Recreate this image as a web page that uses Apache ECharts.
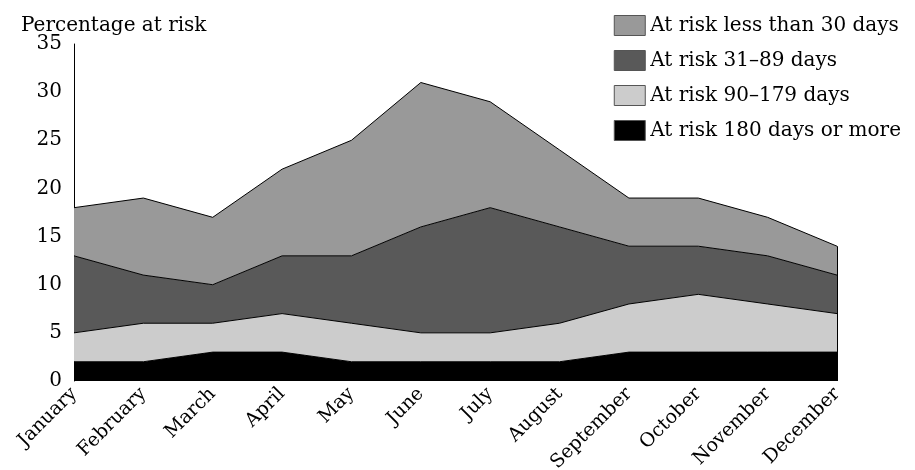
<!DOCTYPE html>
<html><head><meta charset="utf-8">
<script src="https://cdn.jsdelivr.net/npm/echarts@6/dist/echarts.min.js"></script>
<style>html,body{margin:0;padding:0;background:#fff}#c{width:915px;height:470px}</style>
</head><body><div id="c"></div>
<script>
var months = ["January","February","March","April","May","June","July","August","September","October","November","December"];
var risk180plus = [2,2,3,3,2,2,2,2,3,3,3,3];
var risk90to179 = [3,4,3,4,4,3,3,4,5,6,5,4];
var risk31to89 = [8,5,4,6,7,11,13,10,6,5,5,4];
var riskUnder30 = [5,8,7,9,12,15,11,8,5,5,4,3];
var names = ["At risk less than 30 days","At risk 31\u201389 days","At risk 90\u2013179 days","At risk 180 days or more"];
var yTicks = [0,5,10,15,20,25,30,35];

var FONT = "DejaVu Serif";
var chart = echarts.init(document.getElementById('c'));
function mk(name, data, color){
  return {name:name, type:'line', stack:'all', data:data, symbol:'none',
    lineStyle:{color:'#000', width:1}, areaStyle:{color:color, opacity:1},
    itemStyle:{color:color}};
}
var last = months.length-1;
var total = risk180plus[last]+risk90to179[last]+risk31to89[last]+riskUnder30[last];
var s = [
  mk(names[3], risk180plus, '#000000'),
  mk(names[2], risk90to179, '#cccccc'),
  mk(names[1], risk31to89, '#595959'),
  mk(names[0], riskUnder30, '#999999')
];
s[3].markLine = {silent:true, symbol:'none', label:{show:false}, lineStyle:{color:'#000',width:1,type:'solid'},
  data:[[{coord:[months[last],0]},{coord:[months[last],total]}]]};
chart.setOption({
  animation:false,
  textStyle:{fontFamily:FONT},
  title:{text:'Percentage at risk', left:16, top:11, textStyle:{fontFamily:FONT, fontSize:20, fontWeight:'normal', color:'#000'}},
  legend:{orient:'vertical', right:9, top:10, itemWidth:31, itemHeight:20, itemGap:14, data:names, icon:'rect',
    itemStyle:{borderColor:'#555', borderWidth:1},
    textStyle:{fontFamily:FONT, fontSize:20, color:'#000'}},
  grid:{left:74, right:78, top:44, bottom:89, containLabel:false, outerBoundsMode:'none'},
  xAxis:{type:'category', data:months, boundaryGap:false,
    axisLine:{show:false}, axisTick:{show:false},
    axisLabel:{rotate:45, fontFamily:FONT, fontSize:19, color:'#000', margin:10, interval:0}},
  yAxis:{type:'value', min:0, max:35, interval:5,
    axisLine:{show:true, lineStyle:{color:'#000', width:1}}, axisTick:{show:false}, splitLine:{show:false},
    axisLabel:{fontFamily:FONT, fontSize:20, color:'#000', margin:12}},
  series:s
});
</script></body></html>
